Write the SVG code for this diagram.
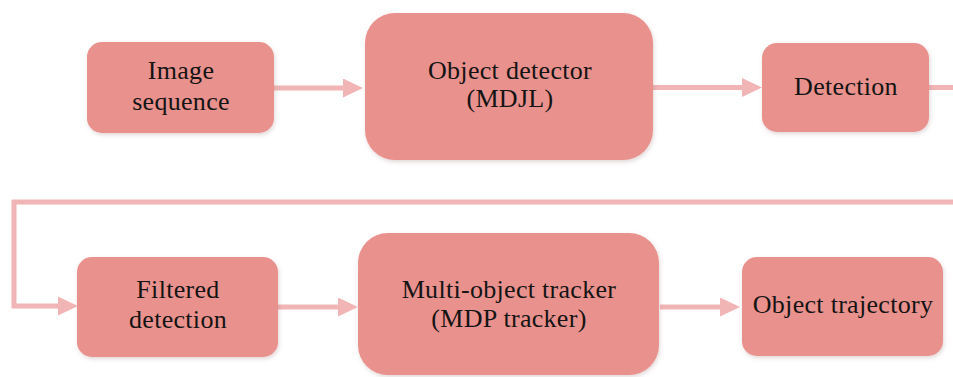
<svg xmlns="http://www.w3.org/2000/svg" width="953" height="377" viewBox="0 0 953 377">
  <style>
    .box { fill: #E9918D; filter: url(#sh); }
    .lbl { font-family: "Liberation Serif", "DejaVu Serif", serif; font-size: 26px; fill: #141414; text-anchor: middle; letter-spacing: 0.3px; }
    .conn { fill: none; stroke: #F2B5B5; stroke-width: 5; }
  </style>
  <defs>
    <filter id="sh" x="-10%" y="-10%" width="120%" height="130%">
      <feDropShadow dx="1" dy="2" stdDeviation="2" flood-color="#8a5a5a" flood-opacity="0.25"/>
    </filter>
    <marker id="ah" markerUnits="userSpaceOnUse" markerWidth="20" markerHeight="19" refX="0" refY="9.5" orient="auto" viewBox="0 0 20 19">
      <path d="M0,0 L20,9.5 L0,19 z" fill="#F2B5B5"/>
    </marker>
  </defs>
  <rect width="953" height="377" fill="#ffffff"/>

  <g id="connectors">
    <path class="conn" d="M274,88 L343,88" marker-end="url(#ah)"/>
    <path class="conn" d="M653,87.5 L742,87.5" marker-end="url(#ah)"/>
    <path class="conn" d="M929,87.5 L953,87.5"/>
    <path class="conn" d="M953,202 L14,202 L14,306 L58,306" marker-end="url(#ah)"/>
    <path class="conn" d="M278,307 L338,307" marker-end="url(#ah)"/>
    <path class="conn" d="M660,307 L720,307" marker-end="url(#ah)"/>
  </g>

  <g id="image-sequence">
    <rect class="box" x="87" y="42" width="187" height="91" rx="15"/>
    <text class="lbl" x="181" y="79">Image</text>
    <text class="lbl" x="181" y="110">sequence</text>
  </g>
  <g id="object-detector">
    <rect class="box" x="365" y="13" width="288" height="147" rx="30"/>
    <text class="lbl" x="510" y="79">Object detector</text>
    <text class="lbl" x="510" y="107">(MDJL)</text>
  </g>
  <g id="detection">
    <rect class="box" x="762" y="43" width="167" height="89" rx="15"/>
    <text class="lbl" x="846" y="95">Detection</text>
  </g>
  <g id="filtered-detection">
    <rect class="box" x="77" y="257" width="201" height="100" rx="15"/>
    <text class="lbl" x="178" y="298">Filtered</text>
    <text class="lbl" x="178" y="328">detection</text>
  </g>
  <g id="multi-object-tracker">
    <rect class="box" x="358" y="233" width="301" height="142" rx="30"/>
    <text class="lbl" x="509" y="298">Multi-object tracker</text>
    <text class="lbl" x="509" y="327">(MDP tracker)</text>
  </g>
  <g id="object-trajectory">
    <rect class="box" x="742" y="257" width="201" height="99" rx="15"/>
    <text class="lbl" x="843" y="313">Object trajectory</text>
  </g>
</svg>
